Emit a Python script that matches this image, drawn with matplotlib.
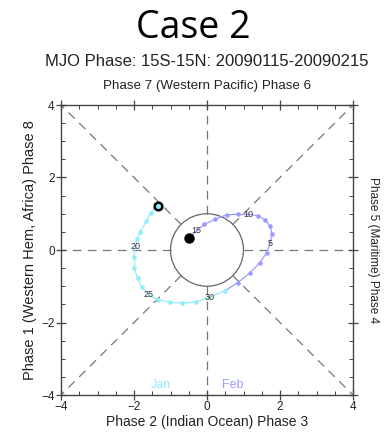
import numpy as np
import matplotlib
matplotlib.use("Agg")
import matplotlib.pyplot as plt
from matplotlib.patches import Circle

plt.rcParams['font.family'] = ['Liberation Sans', 'DejaVu Sans']

# RMM1 / RMM2 daily values, 15 Jan - 31 Jan 2009
jan_days = [15, 16, 17, 18, 19, 20, 21, 22, 23, 24, 25, 26, 27, 28, 29, 30, 31]
jan_rmm1 = [-1.35, -1.54, -1.66, -1.83, -1.91, -1.96, -2.00, -2.00, -1.90, -1.79,
            -1.59, -1.34, -1.02, -0.68, -0.30, 0.08, 0.50]
jan_rmm2 = [1.21, 1.03, 0.80, 0.50, 0.30, 0.11, -0.19, -0.49, -0.78, -1.03,
            -1.24, -1.37, -1.44, -1.47, -1.43, -1.30, -1.12]

# RMM1 / RMM2 daily values, 1 Feb - 15 Feb 2009
feb_days = [1, 2, 3, 4, 5, 6, 7, 8, 9, 10, 11, 12, 13, 14, 15]
feb_rmm1 = [0.84, 1.18, 1.44, 1.64, 1.73, 1.78, 1.73, 1.59, 1.41, 1.14,
            0.86, 0.54, 0.22, -0.07, -0.50]
feb_rmm2 = [-0.90, -0.63, -0.36, -0.07, 0.19, 0.43, 0.66, 0.83, 0.94, 0.99,
            0.99, 0.97, 0.85, 0.71, 0.34]

label_every = 5
jan_color = "#8eeefa"
feb_color = "#9c9cff"
text_color = "#222222"

fig = plt.figure(figsize=(3.85, 4.4), dpi=100)
ax = fig.add_axes([61 / 385, 45 / 440, 292 / 385, 290 / 440])
ax.set_xlim(-4, 4)
ax.set_ylim(-4, 4)

# phase-space guide lines (dashed, stopping at the unit circle)
dash = dict(color="#777777", lw=0.9, ls=(0, (7, 5)), zorder=1)
for ang in np.arange(0, 360, 45):
    a = np.deg2rad(ang)
    if ang % 90 == 0:
        r_out = 4.0
    else:
        r_out = 4.0 * np.sqrt(2)
    ax.plot([np.cos(a) * 1.0, np.cos(a) * r_out], [np.sin(a) * 1.0, np.sin(a) * r_out], **dash)
ax.add_patch(Circle((0, 0), 1.0, fill=False, ec="#666666", lw=0.9, zorder=2))

# full track, coloured by month
xs = jan_rmm1 + feb_rmm1
ys = jan_rmm2 + feb_rmm2
days = jan_days + feb_days
n_jan = len(jan_days)
for i in range(len(xs) - 1):
    c = jan_color if i + 1 < n_jan else feb_color
    ax.plot(xs[i:i + 2], ys[i:i + 2], color=c, lw=0.9, zorder=3)

for i, (x, y, d) in enumerate(zip(xs, ys, days)):
    c = jan_color if i < n_jan else feb_color
    last = i == len(xs) - 1
    if d % label_every == 0 and not last:
        ax.text(x, y, str(d), fontsize=6.5, color="#333333", ha="center", va="center", zorder=5)
    elif i > 0 and not last:
        ax.plot(x, y, "o", ms=3.3, color=c, mec="none", zorder=4)

# start and end markers
ax.plot(xs[0], ys[0], "o", ms=5.5, mfc=jan_color, mec="black", mew=1.8, zorder=6)
ax.plot(xs[-1], ys[-1], "o", ms=6.5, color="black", zorder=6)
ax.text(xs[-1] + 0.2, ys[-1] + 0.19, str(days[-1]), fontsize=6.5, color="#333333",
        ha="center", va="center", zorder=5)

ax.text(-1.26, -3.72, "Jan", color=jan_color, fontsize=9, ha="center", va="center")
ax.text(0.71, -3.72, "Feb", color=feb_color, fontsize=9, ha="center", va="center")

# axes styling
ax.set_xticks([-4, -2, 0, 2, 4])
ax.set_yticks([-4, -2, 0, 2, 4])
ax.set_xticks(np.arange(-4, 4.01, 0.5), minor=True)
ax.set_yticks(np.arange(-4, 4.01, 0.5), minor=True)
ax.tick_params(which="major", direction="inout", length=7, width=0.9, color="#444444",
               labelsize=8.5, labelcolor=text_color, top=True, right=True, pad=1)
ax.tick_params(which="minor", direction="in", length=3, width=0.7, color="#444444",
               top=True, right=True)
for s in ax.spines.values():
    s.set_color("#444444")
    s.set_linewidth(1.0)

ax.set_xlabel("Phase 2 (Indian Ocean) Phase 3", fontsize=10, labelpad=1, color=text_color)
ax.set_ylabel("Phase 1 (Western Hem, Africa) Phase 8", fontsize=10.5, labelpad=3,
              color=text_color)
ax.text(1.07, 0.5, "Phase 5 (Maritime) Phase 4", transform=ax.transAxes, rotation=-90,
        fontsize=8.5, ha="center", va="center", color=text_color)
ax.text(0.5, 1.045, "Phase 7 (Western Pacific) Phase 6", transform=ax.transAxes,
        fontsize=9.6, ha="center", va="bottom", color=text_color)

fig.text(207 / 385, 1 - 62 / 440, "MJO Phase: 15S-15N: 20090115-20090215", fontsize=12,
         ha="center", va="center", color=text_color)
fig.text(193 / 385, 1 - 28 / 440, "Case 2", fontsize=27, ha="center", va="center",
         family=["Open Sans", "DejaVu Sans"])

fig.savefig("out.png", dpi=100)
